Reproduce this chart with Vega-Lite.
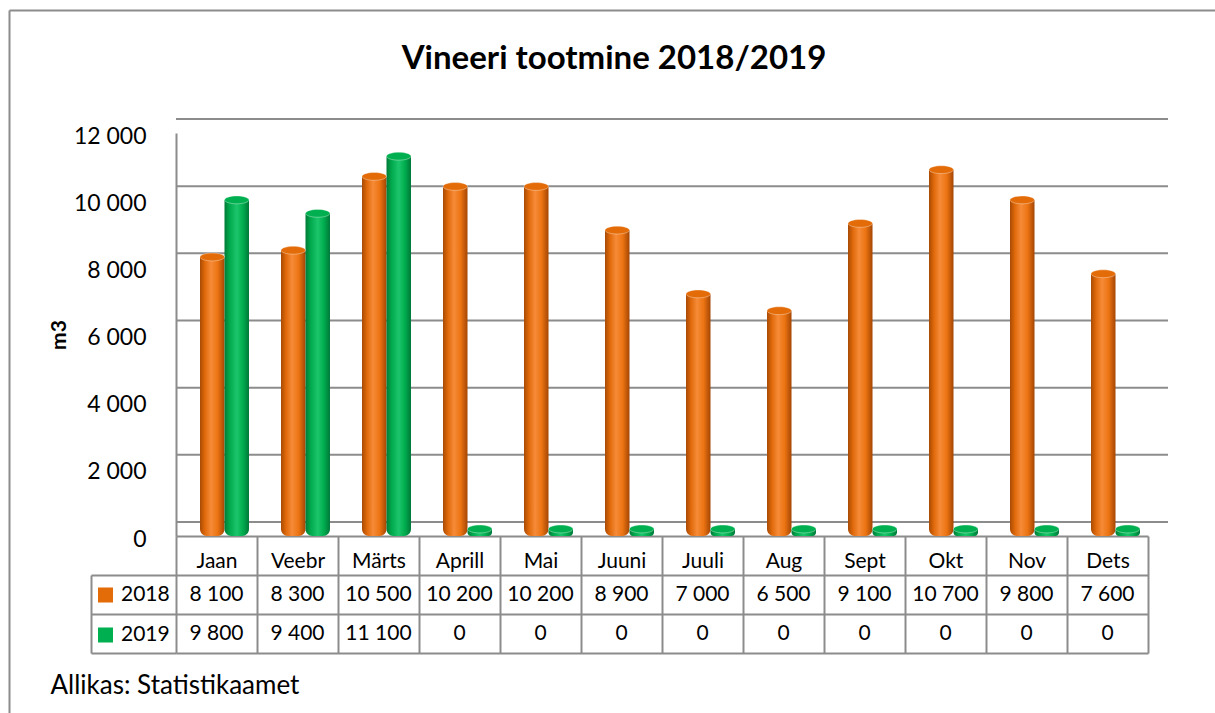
{
  "$schema": "https://vega.github.io/schema/vega-lite/v6.json",
  "width": 972,
  "height": 403,
  "autosize": {"type": "none"},
  "padding": {"left": 176, "top": 133, "right": 67, "bottom": 177},
  "background": "white",
  "title": {
    "text": "Vineeri tootmine 2018/2019",
    "fontSize": 33,
    "fontWeight": "bold",
    "font": "Lato",
    "color": "#000000",
    "anchor": "middle",
    "frame": "group",
    "dx": -48,
    "offset": -66
  },
  "config": {
    "font": "Lato",
    "view": {"stroke": null}
  },
  "datasets": {
    "prod": [
      {"month": "Jaan", "series": "2018", "value": 8100},
      {"month": "Veebr", "series": "2018", "value": 8300},
      {"month": "Märts", "series": "2018", "value": 10500},
      {"month": "Aprill", "series": "2018", "value": 10200},
      {"month": "Mai", "series": "2018", "value": 10200},
      {"month": "Juuni", "series": "2018", "value": 8900},
      {"month": "Juuli", "series": "2018", "value": 7000},
      {"month": "Aug", "series": "2018", "value": 6500},
      {"month": "Sept", "series": "2018", "value": 9100},
      {"month": "Okt", "series": "2018", "value": 10700},
      {"month": "Nov", "series": "2018", "value": 9800},
      {"month": "Dets", "series": "2018", "value": 7600},
      {"month": "Jaan", "series": "2019", "value": 9800},
      {"month": "Veebr", "series": "2019", "value": 9400},
      {"month": "Märts", "series": "2019", "value": 11100},
      {"month": "Aprill", "series": "2019", "value": 0},
      {"month": "Mai", "series": "2019", "value": 0},
      {"month": "Juuni", "series": "2019", "value": 0},
      {"month": "Juuli", "series": "2019", "value": 0},
      {"month": "Aug", "series": "2019", "value": 0},
      {"month": "Sept", "series": "2019", "value": 0},
      {"month": "Okt", "series": "2019", "value": 0},
      {"month": "Nov", "series": "2019", "value": 0},
      {"month": "Dets", "series": "2019", "value": 0}
    ],
    "gridv": [{"v": 0}, {"v": 2000}, {"v": 4000}, {"v": 6000}, {"v": 8000}, {"v": 10000}, {"v": 12000}],
    "one": [{"b": 0}]
  },
  "layer": [
    {
      "layer": [
        {
          "data": {"name": "gridv"},
          "mark": {"type": "rule", "color": "#8c8c8c", "strokeWidth": 2, "xOffset": 20, "x2Offset": 20, "yOffset": -14, "y2Offset": -14},
          "encoding": {
            "y": {
              "field": "v", "type": "quantitative",
              "scale": {"domain": [0, 12000], "nice": false, "zero": true},
              "axis": {
                "orient": "left",
                "values": [0, 2000, 4000, 6000, 8000, 10000, 12000],
                "labelExpr": "replace(format(datum.value, ','), ',', ' ')",
                "domain": true, "domainColor": "#8c8c8c", "domainWidth": 2,
                "ticks": false, "grid": false,
                "labelFontSize": 23, "labelFont": "Lato", "labelColor": "#000000", "labelPadding": 30, "labelOffset": 3,
                "title": "m3", "titleFontSize": 21, "titleFont": "Lato", "titleFontWeight": "bold", "titleColor": "#000000", "titlePadding": 4
              }
            }
          }
        },
        {
          "data": {"name": "prod"},
          "transform": [{"filter": "datum.series == '2018'"}],
          "mark": {
            "type": "bar", "yOffset": -7, "y2Offset": -4, "strokeWidth": 0,
            "cornerRadiusBottomLeft": 7, "cornerRadiusBottomRight": 7,
            "fill": {"gradient": "linear", "x1": 0, "x2": 1, "y1": 0, "y2": 0,
              "stops": [
                {"offset": 0, "color": "#a84a04"},
                {"offset": 0.2, "color": "#e0690a"},
                {"offset": 0.45, "color": "#f68b38"},
                {"offset": 0.72, "color": "#ec7412"},
                {"offset": 1, "color": "#a44604"}
              ]}
          },
          "encoding": {
            "x": {"field": "month", "type": "nominal", "sort": null,
              "scale": {"domain": ["Jaan", "Veebr", "Märts", "Aprill", "Mai", "Juuni", "Juuli", "Aug", "Sept", "Okt", "Nov", "Dets"], "paddingInner": 0, "paddingOuter": 0},
              "axis": null},
            "xOffset": {"field": "series", "type": "nominal",
              "scale": {"domain": ["2018", "2019"], "range": [24, 73], "paddingInner": 0, "paddingOuter": 0}},
            "y": {"field": "value", "type": "quantitative", "stack": null}
          }
        },
        {
          "data": {"name": "prod"},
          "transform": [{"filter": "datum.series == '2019'"}],
          "mark": {
            "type": "bar", "yOffset": -7, "y2Offset": -4, "strokeWidth": 0,
            "cornerRadiusBottomLeft": 7, "cornerRadiusBottomRight": 7,
            "fill": {"gradient": "linear", "x1": 0, "x2": 1, "y1": 0, "y2": 0,
              "stops": [
                {"offset": 0, "color": "#007a36"},
                {"offset": 0.2, "color": "#00a84c"},
                {"offset": 0.5, "color": "#1cc56b"},
                {"offset": 0.75, "color": "#00ad4e"},
                {"offset": 1, "color": "#00783a"}
              ]}
          },
          "encoding": {
            "x": {"field": "month", "type": "nominal", "sort": null, "axis": null},
            "xOffset": {"field": "series", "type": "nominal"},
            "y": {"field": "value", "type": "quantitative", "stack": null}
          }
        },
        {
          "data": {"name": "prod"},
          "mark": {"type": "point", "shape": "M -1 0 A 1 0.32 0 1 1 1 0 A 1 0.32 0 1 1 -1 0 Z", "size": 600, "filled": true, "opacity": 1, "yOffset": -7, "stroke": "#ffffff", "strokeOpacity": 0.35, "strokeWidth": 1},
          "encoding": {
            "x": {"field": "month", "type": "nominal", "sort": null, "axis": null},
            "xOffset": {"field": "series", "type": "nominal"},
            "y": {"field": "value", "type": "quantitative"},
            "fill": {
              "field": "series", "type": "nominal",
              "scale": {"domain": ["2018", "2019"], "range": ["#E36C09", "#00B050"]},
              "legend": {
                "orient": "none", "legendX": -81, "legendY": 452,
                "title": null, "symbolType": "square", "symbolSize": 225, "symbolStrokeWidth": 0, "symbolOpacity": 1,
                "labelFontSize": 21, "labelFont": "Lato", "labelColor": "#000000", "labelOffset": 5,
                "rowPadding": 19, "clipHeight": 20, "padding": 0, "direction": "vertical"
              }
            }
          }
        }
      ]
    },
    {
      "data": {"name": "prod"},
      "mark": {"type": "text", "fontSize": 21, "font": "Lato", "color": "#000000", "text": {"expr": "replace(format(datum.value, ','), ',', ' ')"}},
      "encoding": {
        "x": {
          "field": "month", "type": "nominal", "sort": null,
          "scale": {"type": "band", "domain": ["Jaan", "Veebr", "Märts", "Aprill", "Mai", "Juuni", "Juuli", "Aug", "Sept", "Okt", "Nov", "Dets"], "paddingInner": 0, "paddingOuter": 0},
          "axis": {
            "orient": "bottom",
            "domain": true, "domainColor": "#8c8c8c", "domainWidth": 2,
            "ticks": true, "tickColor": "#8c8c8c", "tickWidth": 2, "tickSize": 117, "tickBand": "extent",
            "grid": false,
            "labelAngle": 0, "labelFontSize": 21, "labelFont": "Lato", "labelColor": "#000000", "labelBaseline": "middle", "labelPadding": -92, "labelOverlap": false,
            "title": "Allikas: Statistikaamet", "titleFontSize": 26, "titleFont": "Lato", "titleFontWeight": "normal", "titleColor": "#000000",
            "titleAlign": "left", "titleAnchor": "start", "titleX": -126, "titleY": 149, "titleBaseline": "middle"
          }
        },
        "y": {
          "field": "series", "type": "nominal",
          "scale": {"type": "band", "domain": ["2018", "2019"], "range": [442, 520], "paddingInner": 0, "paddingOuter": 0},
          "axis": {
            "orient": "left", "domain": false, "labels": false,
            "ticks": true, "tickColor": "#8c8c8c", "tickWidth": 2, "tickSize": 85, "tickBand": "extent",
            "grid": true, "gridColor": "#8c8c8c", "gridWidth": 2, "title": null
          }
        }
      }
    },
    {
      "data": {"name": "prod"},
      "mark": {"type": "point", "opacity": 0},
      "encoding": {
        "y": {
          "field": "series", "type": "nominal",
          "scale": {"type": "band", "domain": ["2018", "2019"], "range": [442, 520], "paddingInner": 0, "paddingOuter": 0},
          "axis": {"orient": "left", "offset": 85, "domain": true, "domainColor": "#8c8c8c", "domainWidth": 2, "ticks": false, "labels": false, "grid": false, "title": null}
        }
      }
    },
    {
      "data": {"name": "one"},
      "mark": {"type": "point", "opacity": 0},
      "encoding": {
        "x": {
          "field": "b", "type": "quantitative",
          "scale": {"domain": [0, 1], "range": [-167, 1100], "nice": false, "zero": false},
          "axis": {"orient": "top", "offset": 123, "domain": true, "domainColor": "#8c8c8c", "domainWidth": 2, "ticks": false, "labels": false, "grid": false, "title": null}
        },
        "y": {
          "field": "b", "type": "quantitative",
          "scale": {"domain": [0, 1], "range": [580, -123], "nice": false, "zero": false},
          "axis": {"orient": "left", "offset": 167, "domain": true, "domainColor": "#8c8c8c", "domainWidth": 2, "ticks": false, "labels": false, "grid": false, "title": null}
        }
      }
    }
  ],
  "resolve": {
    "scale": {"x": "independent", "y": "independent"},
    "axis": {"x": "independent", "y": "independent"}
  }
}
